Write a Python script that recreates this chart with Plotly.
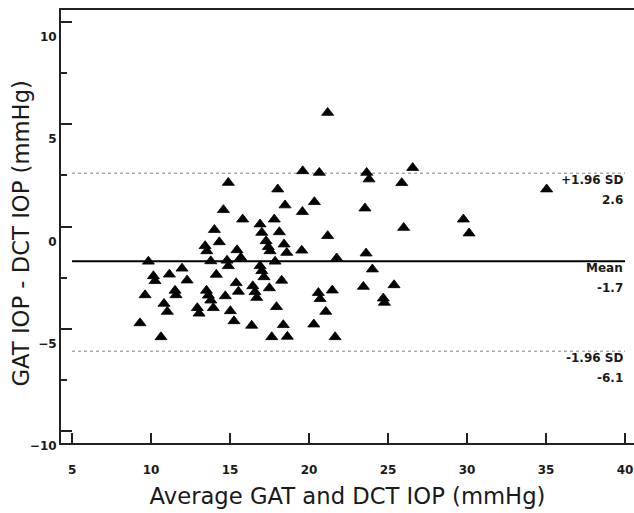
import plotly.graph_objects as go

# Average of GAT and DCT IOP (mmHg)
avg_iop = [
    9.30, 9.62, 9.83, 10.15, 10.25, 10.63, 10.82, 11.03, 11.16, 11.52,
    11.58, 11.96, 12.28, 12.93, 13.04, 13.42, 13.53, 13.51, 13.63, 13.78,
    13.94, 13.78, 14.01, 14.13, 14.32, 14.58, 14.89, 14.70, 14.81, 14.89,
    15.02, 15.25, 15.44, 15.68, 15.39, 15.53, 15.80, 16.37, 16.44, 16.58,
    16.69, 16.90, 17.01, 16.90, 17.01, 17.15, 17.28, 17.42, 17.53, 17.49,
    17.64, 17.80, 17.85, 17.94, 18.02, 18.12, 18.27, 18.37, 18.42, 18.59,
    18.48, 18.63, 19.54, 19.58, 19.60, 20.34, 20.30, 20.59, 20.70, 20.65,
    21.06, 21.18, 21.18, 21.47, 21.65, 21.75, 23.44, 23.54, 23.61, 23.65,
    23.80, 24.01, 24.70, 24.77, 25.38, 25.87, 25.99, 26.56, 29.77, 30.13,
    35.04,
]
# Difference GAT IOP - DCT IOP (mmHg)
diff_iop = [
    -4.72, -3.35, -1.71, -2.42, -2.66, -5.40, -3.77, -4.16, -2.34, -3.13,
    -3.35, -2.05, -2.63, -3.98, -4.25, -0.95, -1.20, -3.13, -3.37, -3.61,
    -3.98, -1.69, -0.16, -2.35, -0.76, 0.81, 2.14, -3.40, -1.66, -1.93,
    -4.13, -4.62, -1.15, -1.52, -2.76, -3.18, 0.35, -4.84, -2.91, -3.20,
    -3.48, 0.11, -0.30, -1.93, -2.17, -2.47, -0.71, -1.00, -1.20, -3.01,
    -5.40, 0.35, -1.71, -3.93, 1.82, -0.27, -2.64, -4.81, -0.87, -1.28,
    1.04, -5.38, -1.17, 0.72, 2.71, 1.20, -4.78, -3.24, -3.54, 2.63,
    -4.16, -0.46, 5.56, -3.12, -5.40, -1.55, -2.94, 0.89, -1.31, 2.63,
    2.31, -2.09, -3.51, -3.72, -2.86, 2.13, -0.06, 2.87, 0.35, -0.33,
    1.82,
]

mean_diff = -1.7
upper_loa = 2.6
lower_loa = -6.1
line_names = ["+1.96 SD", "Mean", "-1.96 SD"]
line_values = [upper_loa, mean_diff, lower_loa]
line_styles = ["dot", "solid", "dot"]

x_ticks = [5, 10, 15, 20, 25, 30, 35, 40]
y_ticks = [-10, -5, 0, 5, 10]

x_title = "Average GAT and DCT IOP (mmHg)"
y_title = "GAT IOP - DCT IOP (mmHg)"

AX = "#222222"
FONT = "DejaVu Sans"

fig = go.Figure()
fig.add_trace(go.Scatter(
    x=avg_iop, y=diff_iop, mode="markers",
    marker=dict(symbol="triangle-up", size=10.5, color="black",
                line=dict(width=0.8, color="black")),
    showlegend=False, hoverinfo="x+y",
))

for name, val, sty in zip(line_names, line_values, line_styles):
    if sty == "solid":
        ln = dict(color="black", width=2)
    else:
        ln = dict(color="#a8a8a8", width=1.5, dash="dot")
    fig.add_shape(type="line", xref="x", yref="y", x0=x_ticks[0], x1=x_ticks[-1],
                  y0=val, y1=val, line=ln, layer="below")
    fig.add_annotation(x=x_ticks[-1], y=val, xref="x", yref="y", text="<b>%s</b>" % name,
                       showarrow=False, xanchor="right", yanchor="middle", yshift=-7,
                       font=dict(family=FONT, size=12, color="#1a1a1a"))
    fig.add_annotation(x=x_ticks[-1], y=val, xref="x", yref="y", text="<b>%.1f</b>" % val,
                       showarrow=False, xanchor="right", yanchor="middle", yshift=-27,
                       font=dict(family=FONT, size=12, color="#1a1a1a"))

# y-axis title placed as a rotated annotation for exact positioning
fig.add_annotation(x=0, y=0.5, xref="paper", yref="paper", text=y_title, textangle=-90,
                   showarrow=False, xanchor="center", yanchor="middle",
                   xshift=-41, yshift=-7,
                   font=dict(family=FONT, size=22.7, color="#1a1a1a"))

fig.update_layout(
    width=634, height=513,
    margin=dict(l=61, r=0, t=10, b=70),
    paper_bgcolor="white", plot_bgcolor="white",
    font=dict(family=FONT, color="#1a1a1a"),
    xaxis=dict(
        range=[4.30, 40.57], tickvals=x_ticks, ticks="inside", ticklen=10, tickwidth=1.5,
        tickcolor=AX, showline=True, linecolor=AX, linewidth=2, mirror=True,
        showgrid=False, zeroline=False,
        tickfont=dict(family=FONT, size=12, color="#1a1a1a", weight="bold"),
        ticklabelstandoff=15,
        title=dict(text=x_title,
                   font=dict(family=FONT, size=22.7, color="#1a1a1a"), standoff=12),
    ),
    yaxis=dict(
        range=[-10.58, 10.58], tickvals=y_ticks, ticks="inside", ticklen=11, tickwidth=1.5,
        tickcolor=AX, showline=True, linecolor=AX, linewidth=2,
        showgrid=False, zeroline=False,
        minor=dict(dtick=2.5, tick0=0, ticks="inside", ticklen=6, tickwidth=1.5, tickcolor=AX),
        tickfont=dict(family=FONT, size=12, color="#1a1a1a", weight="bold"),
        ticklabelshift=15,
    ),
)

fig.write_html("out.html")
